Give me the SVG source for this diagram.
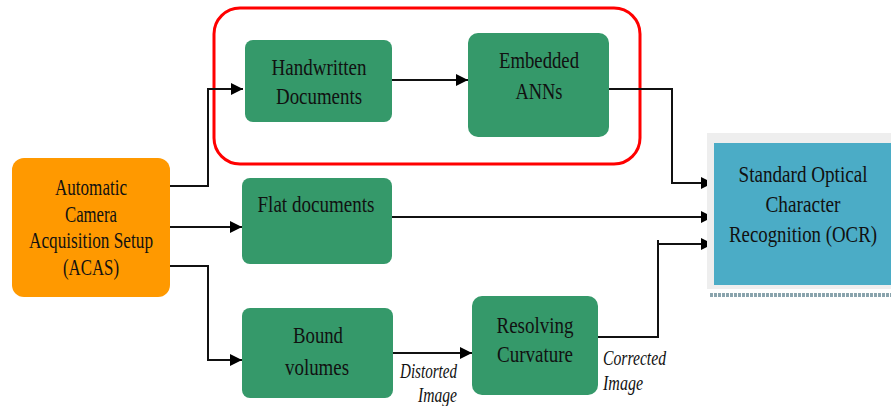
<svg xmlns="http://www.w3.org/2000/svg" width="891" height="406" viewBox="0 0 891 406">
<defs>
<marker id="ah" viewBox="0 0 12 12" refX="12" refY="6" markerWidth="12" markerHeight="12" markerUnits="userSpaceOnUse" orient="auto">
<path d="M0,0 L12,6 L0,12 Z" fill="#000"/>
</marker>
</defs>
<style>
.g{fill:#35996a;}
.t{font-family:"Liberation Serif","Times New Roman",serif;font-size:24px;fill:#111;text-anchor:middle;}
.i{font-family:"Liberation Serif","Times New Roman",serif;font-size:20px;font-style:italic;fill:#111;}
.c{fill:none;stroke:#111;stroke-width:2;}
</style>
<rect width="891" height="406" fill="#fff"/>
<g id="group-red">
<rect x="214" y="8" width="426" height="156" rx="26" fill="none" stroke="#f00" stroke-width="3"/>
</g>
<g id="connectors">
<path class="c" d="M170,186 H208 V89 H243" marker-end="url(#ah)"/>
<path class="c" d="M170,227 H242" marker-end="url(#ah)"/>
<path class="c" d="M170,266 H208 V360 H242" marker-end="url(#ah)"/>
<path class="c" d="M392,80 H468" marker-end="url(#ah)"/>
<path class="c" d="M609,89 H672 V183 H713" marker-end="url(#ah)"/>
<path class="c" d="M392,217 H713" marker-end="url(#ah)"/>
<path class="c" d="M393,353 H472" marker-end="url(#ah)"/>
<path class="c" d="M598,337 H658 V240 M658,244 H713" marker-end="url(#ah)"/>
</g>
<g id="acas">
<rect x="12" y="158" width="158" height="139" rx="12" fill="#ff9900"/>
<text class="t" x="91" y="195" textLength="72" lengthAdjust="spacingAndGlyphs">Automatic</text>
<text class="t" x="91" y="222" textLength="52" lengthAdjust="spacingAndGlyphs">Camera</text>
<text class="t" x="91" y="248" textLength="124" lengthAdjust="spacingAndGlyphs">Acquisition Setup</text>
<text class="t" x="91" y="275" textLength="56" lengthAdjust="spacingAndGlyphs">(ACAS)</text>
</g>
<g id="handwritten">
<rect class="g" x="245" y="40" width="147" height="82" rx="8"/>
<text class="t" x="319" y="75" textLength="95" lengthAdjust="spacingAndGlyphs">Handwritten</text>
<text class="t" x="319" y="104" textLength="86" lengthAdjust="spacingAndGlyphs">Documents</text>
</g>
<g id="embedded">
<rect class="g" x="468" y="33" width="141" height="104" rx="10"/>
<text class="t" x="539" y="68" textLength="80" lengthAdjust="spacingAndGlyphs">Embedded</text>
<text class="t" x="539" y="99" textLength="47" lengthAdjust="spacingAndGlyphs">ANNs</text>
</g>
<g id="flat">
<rect class="g" x="242" y="178" width="150" height="86" rx="8"/>
<text class="t" x="316" y="212" textLength="117" lengthAdjust="spacingAndGlyphs">Flat documents</text>
</g>
<g id="bound">
<rect class="g" x="242" y="308" width="151" height="90" rx="8"/>
<text class="t" x="318" y="343" textLength="50" lengthAdjust="spacingAndGlyphs">Bound</text>
<text class="t" x="317" y="375" textLength="64" lengthAdjust="spacingAndGlyphs">volumes</text>
</g>
<g id="resolving">
<rect class="g" x="472" y="296" width="126" height="99" rx="10"/>
<text class="t" x="535" y="333" textLength="77" lengthAdjust="spacingAndGlyphs">Resolving</text>
<text class="t" x="535" y="362" textLength="76" lengthAdjust="spacingAndGlyphs">Curvature</text>
</g>
<g id="ocr">
<rect x="707" y="133" width="184" height="156" fill="#eeeeee"/>
<rect x="714" y="143" width="177" height="142" fill="#4bacc6"/>
<line x1="710" y1="295" x2="891" y2="295" stroke="#8aa4ad" stroke-width="4" stroke-dasharray="3,1"/>
<text class="t" x="803" y="182" textLength="129" lengthAdjust="spacingAndGlyphs">Standard Optical</text>
<text class="t" x="803" y="212" textLength="75" lengthAdjust="spacingAndGlyphs">Character</text>
<text class="t" x="803" y="242" textLength="148" lengthAdjust="spacingAndGlyphs">Recognition (OCR)</text>
</g>
<g id="labels">
<text class="i" x="400" y="378" textLength="57" lengthAdjust="spacingAndGlyphs">Distorted</text>
<text class="i" x="418" y="402" textLength="39" lengthAdjust="spacingAndGlyphs">Image</text>
<text class="i" x="603" y="365" textLength="63" lengthAdjust="spacingAndGlyphs">Corrected</text>
<text class="i" x="603" y="390" textLength="40" lengthAdjust="spacingAndGlyphs">Image</text>
</g>
</svg>
